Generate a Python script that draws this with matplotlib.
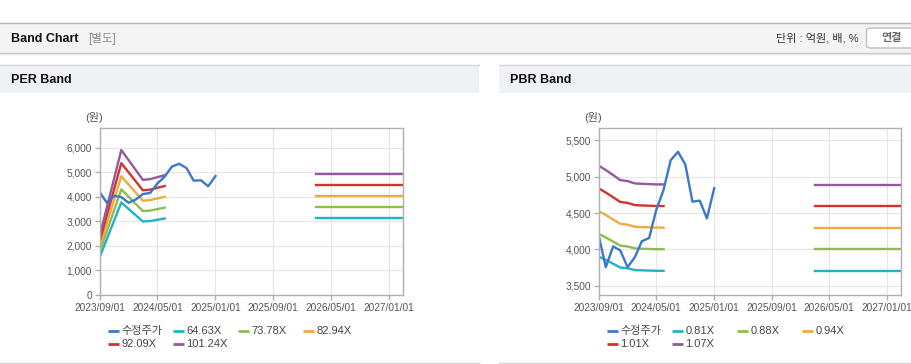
import matplotlib
matplotlib.use("Agg")
import matplotlib.pyplot as plt
import matplotlib.dates as mdates
from matplotlib.patches import Rectangle, FancyBboxPatch
from matplotlib.lines import Line2D
from matplotlib.ticker import FuncFormatter, MultipleLocator
import pandas as pd

# ---------------- data ----------------
price_dates = pd.date_range("2023-09-01", periods=17, freq="MS")
price = [4190, 3755, 4042, 3986, 3755, 3894, 4111, 4157, 4540, 4820,
         5227, 5343, 5167, 4657, 4671, 4426, 4843]
price_label = "수정주가"

per_mult = [64.63, 73.78, 82.94, 92.09, 101.24]
per_labels = ["64.63X", "73.78X", "82.94X", "92.09X", "101.24X"]
per_dates_left = pd.to_datetime(["2023-09-01", "2023-12-01", "2024-03-01", "2024-04-01", "2024-06-01"])
eps_left = [23.8, 58.3, 46.3, 46.6, 48.2]
per_dates_right = pd.to_datetime(["2026-03-01", "2027-03-01"])
eps_right = [48.6, 48.6]

pbr_mult = [0.81, 0.875, 0.94, 1.005, 1.07]
pbr_labels = ["0.81X", "0.88X", "0.94X", "1.01X", "1.07X"]
pbr_dates_left = pd.date_range("2023-09-01", periods=10, freq="MS")
bps_left = [4815, 4759, 4694, 4630, 4617, 4587, 4582, 4578, 4574, 4574]
pbr_dates_right = pd.to_datetime(["2026-03-01", "2027-03-01"])
bps_right = [4570, 4570]

x_ticks = pd.to_datetime(["2023-09-01", "2024-05-01", "2025-01-01",
                          "2025-09-01", "2026-05-01", "2027-01-01"])
x_range = pd.to_datetime(["2023-09-01", "2027-03-01"])

price_color = "#3a78c9"
band_colors = ["#1fb3c7", "#8fbb4f", "#f0aa40", "#d1342c", "#95589f"]

# ---------------- figure ----------------
W, H = 912, 364
fig = plt.figure(figsize=(W / 100, H / 100), dpi=100)
fig.patch.set_facecolor("white")

def fx(x):
    return x / W

def fy(y):
    return 1 - y / H

def hline(y, x0, x1, color, lw=1.0):
    fig.add_artist(Line2D([fx(x0), fx(x1)], [fy(y), fy(y)], color=color, lw=lw,
                          transform=fig.transFigure))

def rect(x0, y0, x1, y1, color):
    fig.add_artist(Rectangle((fx(x0), fy(y1)), fx(x1) - fx(x0), fy(y0) - fy(y1),
                             transform=fig.transFigure, facecolor=color,
                             edgecolor="none", zorder=0))

KFONT = ["Liberation Sans", "Noto Sans CJK KR", "DejaVu Sans"]

# top header band
rect(0, 22.5, W, 52.5, "#f4f4f4")
hline(22.5, 0, W, "#b3b3b3", 1.0)
hline(52.8, 0, W, "#c4c4c4", 1.0)
hline(53.8, 0, W, "#e4e4e4", 1.0)
fig.text(fx(11), fy(38.5), "Band Chart", fontsize=9, fontweight="bold",
         family=KFONT, va="center", ha="left", color="#111111")
fig.text(fx(88), fy(38.5), "[별도]", fontsize=8.3, family=KFONT,
         va="center", ha="left", color="#8a8a8a")
fig.text(fx(859), fy(38.5), "단위 : 억원, 배, %", fontsize=8, family=KFONT,
         va="center", ha="right", color="#333333")
fig.add_artist(FancyBboxPatch((fx(866.5), fy(48)), fx(60), fy(28) - fy(48),
                              boxstyle="round,pad=0,rounding_size=0.006",
                              transform=fig.transFigure, facecolor="white",
                              edgecolor="#bdbdbd", lw=1.0))
fig.text(fx(892), fy(38.5), "연결", fontsize=8, fontweight="bold",
         family=KFONT, va="center", ha="center", color="#666666")

# panel headers
for (a, b, title) in [(0, 479, "PER Band"), (499, W, "PBR Band")]:
    rect(a, 64.5, b, 93, "#eef1f6")
    hline(64.5, a, b, "#d6d6d6", 1.0)
    hline(362.5, a, b, "#d6d6d6", 1.0)
    fig.text(fx(a + 11), fy(80), title, fontsize=9, fontweight="bold",
             family=KFONT, va="center", ha="left", color="#111111")

# ---------------- axes ----------------
def style_axes(ax, ylim, ystep):
    ax.set_xlim(x_range[0], x_range[1])
    ax.set_ylim(*ylim)
    ax.set_xticks(x_ticks)
    ax.xaxis.set_major_formatter(mdates.DateFormatter("%Y/%m/%d"))
    ax.yaxis.set_major_locator(MultipleLocator(ystep))
    ax.yaxis.set_major_formatter(FuncFormatter(lambda v, p: f"{int(round(v)):,}"))
    ax.grid(True, color="#e6e6e6", lw=0.8)
    ax.set_axisbelow(True)
    for s in ax.spines.values():
        s.set_color("#b0b0b0")
        s.set_linewidth(1.0)
    ax.tick_params(axis="both", colors="#b0b0b0", length=3.5, width=1.0,
                   labelsize=7.3, labelcolor="#555555", pad=2)
    for lab in ax.get_xticklabels() + ax.get_yticklabels():
        lab.set_family(KFONT)

def draw_legend(x_first, labels_all, colors_all):
    xs = [x_first + 65 * i for i in range(4)]
    ys = [330.7, 344]
    for i, (lab, col) in enumerate(zip(labels_all, colors_all)):
        r, c = divmod(i, 4)
        x, y = xs[c], ys[r]
        fig.add_artist(Line2D([fx(x), fx(x + 11.5)], [fy(y), fy(y)], color=col,
                              lw=2.0, transform=fig.transFigure,
                              solid_capstyle="butt"))
        fig.text(fx(x + 13.5), fy(y), lab, fontsize=8, family=KFONT,
                 va="center", ha="left", color="#444444")

ax_h_bottom = fy(295)
ax_h = fy(128) - fy(295)
LW = 1.7

# PER
ax1 = fig.add_axes([fx(99.7), ax_h_bottom, fx(402.7) - fx(99.7), ax_h])
for m, col in zip(per_mult, band_colors):
    ax1.plot(per_dates_left, [e * m for e in eps_left], color=col, lw=LW)
    ax1.plot(per_dates_right, [e * m for e in eps_right], color=col, lw=LW)
ax1.plot(price_dates, price, color=price_color, lw=LW)
style_axes(ax1, (0, 6800), 1000)
fig.text(fx(94), fy(117.5), "(원)", fontsize=8, family=KFONT,
         ha="center", va="center", color="#555555")
draw_legend(107.7, [price_label] + per_labels, [price_color] + band_colors)

# PBR
ax2 = fig.add_axes([fx(598.7), ax_h_bottom, fx(901) - fx(598.7), ax_h])
for m, col in zip(pbr_mult, band_colors):
    ax2.plot(pbr_dates_left, [b * m for b in bps_left], color=col, lw=LW)
    ax2.plot(pbr_dates_right, [b * m for b in bps_right], color=col, lw=LW)
ax2.plot(price_dates, price, color=price_color, lw=LW)
style_axes(ax2, (3372, 5671), 500)
fig.text(fx(593), fy(117.5), "(원)", fontsize=8, family=KFONT,
         ha="center", va="center", color="#555555")
draw_legend(606.7, [price_label] + pbr_labels, [price_color] + band_colors)

fig.savefig("out.png", dpi=100)
